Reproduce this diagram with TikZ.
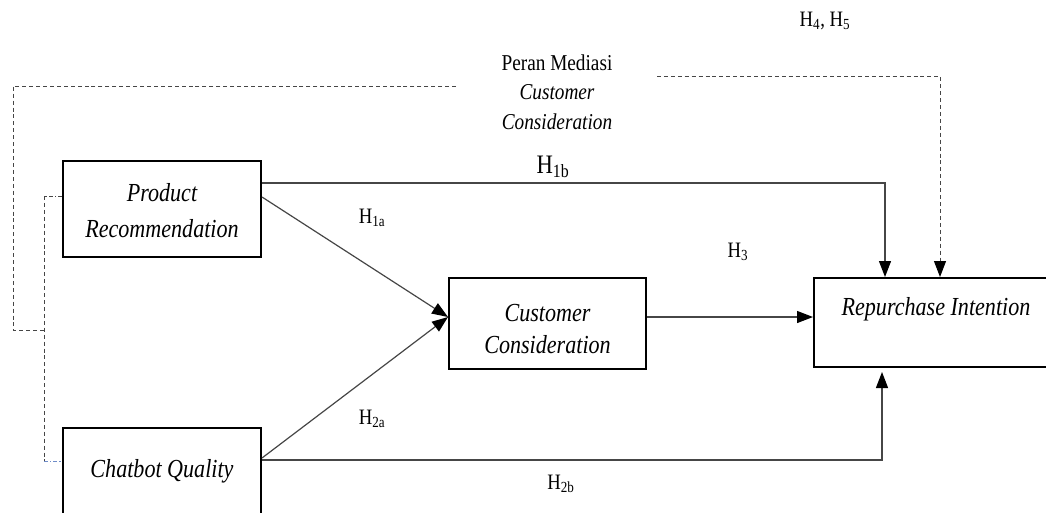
\documentclass[tikz,border=0pt]{standalone}
\usepackage{fontspec}
\setmainfont{Liberation Serif}
\usetikzlibrary{arrows.meta,calc}
\newcommand{\nx}[1]{\scalebox{0.85}[1]{#1}}
\definecolor{lnc}{RGB}{70,70,70}
\definecolor{dshc}{RGB}{70,70,70}
\definecolor{bluc}{RGB}{110,140,200}
\begin{document}
\begin{tikzpicture}[x=0.75pt,y=-0.75pt,
  box/.style={draw=black,line width=1.5pt,inner sep=0pt},
  boxtxt/.style={align=center,inner sep=0pt,font=\fontsize{19.5}{27}\itshape\selectfont},
  hlab/.style={inner sep=0pt,font=\fontsize{16.5}{20}\selectfont},
  conn/.style={draw=lnc,line width=0.9pt},
  tip/.style={-{Triangle[length=12pt,width=9pt,color=black]}},
  dsh/.style={draw=dshc,line width=0.75pt,dash pattern=on 3pt off 2.2pt}]
\useasboundingbox (0,0) rectangle (1046,512);
\clip (0,0) rectangle (1046,512);
% boxes
\node[box,minimum width=148.5pt,minimum height=72pt] (pr) at (162,209) {};
\node[box,minimum width=148.5pt,minimum height=75pt] (cq) at (162,478) {};
\node[box,minimum width=147.75pt,minimum height=68.25pt] (cc) at (547.5,323.5) {};
\node[box,minimum width=183pt,minimum height=66.75pt] (ri) at (936,322.5) {};
% box texts
\node[boxtxt] (prt) at (162,211) {\nx{Product}\\\nx{Recommendation}};
\node[boxtxt,font=\fontsize{19.5}{24}\itshape\selectfont] (cct) at (547.5,329) {\nx{Customer}\\\nx{Consideration}};
\node[boxtxt] (cqt) at (162,471) {\nx{Chatbot Quality}};
\node[boxtxt] (rit) at (936,309) {\nx{Repurchase Intention}};
% mediation label
\node[align=center,inner sep=0pt,font=\fontsize{17}{22}\selectfont] (med) at (557,92) {\nx{Peran Mediasi}\\\nx{\itshape Customer}\\\nx{\itshape Consideration}};
% hypothesis labels
\node[hlab] (h1a) at (372,218) {\nx{H\textsubscript{1a}}};
\node[hlab,font=\fontsize{20}{24}\selectfont] (h1b) at (553,167) {\nx{H\textsubscript{1b}}};
\node[hlab] (h2a) at (372,419) {\nx{H\textsubscript{2a}}};
\node[hlab] (h2b) at (561,484) {\nx{H\textsubscript{2b}}};
\node[hlab] (h3) at (738,252) {\nx{H\textsubscript{3}}};
\node[hlab] (h45) at (825,21) {\nx{H\textsubscript{4}, H\textsubscript{5}}};
% coordinates
\coordinate (ccin) at ($(cc.west)+(0,-6.5)$);
% H1a, H2a
\draw[conn,tip] ($(pr.east)+(0,-12)$) -- (ccin);
\draw[conn,tip] ($(cq.east)+(0,-20)$) -- (ccin);
% H3
\draw[conn,tip] ($(cc.east)+(0,-6.5)$) -- ($(ri.west)+(0,-5.5)$);
% H1b
\draw[conn,tip] ($(pr.east)+(0,-26)$) -| ($(ri.north)+(-51,0)$);
% H2b
\draw[conn,tip] ($(cq.east)+(0,-18)$) -| ($(ri.south)+(-54,4)$);
% mediation dashed
\coordinate (mr) at (657,76);
\coordinate (ml) at (456,86);
\draw[dsh] (mr) -| ($(ri.north)+(4,-14)$);
\draw[dsh,tip] ($(ri.north)+(4,-15)$) -- ($(ri.north)+(4,0)$);
\coordinate (lb) at (45,330);
\draw[dsh] (ml) -| (13,330) -- (lb);
\draw[dsh,dash pattern=on 3pt off 1.5pt on 1pt off 1.5pt] ($(pr.west)+(0,-13)$) -- ++(-18,0);
\draw[dsh] ($(pr.west)+(-18,-13)$) -- ($(cq.west)+(-18,-17)$);
\draw[draw=bluc,line width=0.75pt,dash pattern=on 3pt off 1.5pt on 1pt off 1.5pt] ($(cq.west)+(-18,-17)$) -- ($(cq.west)+(0,-17)$);
\end{tikzpicture}
\end{document}
